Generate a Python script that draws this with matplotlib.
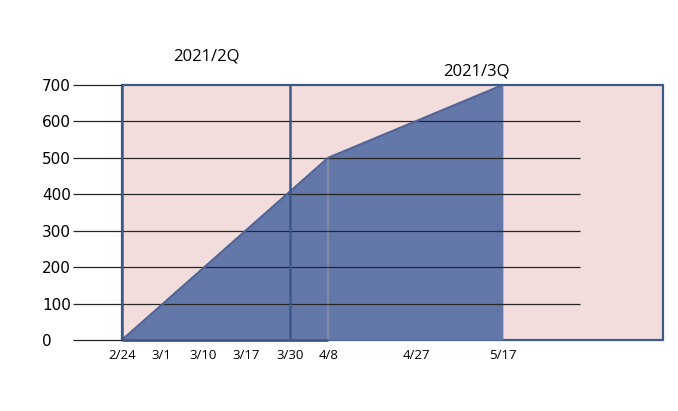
import matplotlib.pyplot as plt
from matplotlib.patches import Rectangle

# x-axis dates as written on the slide (spacing is hand-drawn, not per day)
dates = ['2/24', '3/1', '3/10', '3/17', '3/30', '4/8', '4/27', '5/17']
date_pos = [0, 0.94, 1.95, 2.99, 4.05, 4.97, 7.1, 9.18]

# cumulative area
area_dates = ['2/24', '4/8', '5/17']
area_values = [0, 500, 700]

y_ticks = [0, 100, 200, 300, 400, 500, 600, 700]
quarters = ['2021/2Q', '2021/3Q']
quarter_split = '3/30'

PINK = '#f2dddc'
BORDER = '#3c5a87'
BLUE = '#6477a9'
BLUE_EDGE = '#4f6497'

pos = dict(zip(dates, date_pos))
x_area = [pos[d] for d in area_dates]
x_left, x_right = -1.18, 13.04   # axes extent (gridline start / end of timeline box)
grid_end = 11.05

fig = plt.figure(figsize=(6.78, 4.11), dpi=100)
ax = fig.add_axes([73 / 678, 71 / 411, 590 / 678, 255 / 411])
ax.set_xlim(x_left, x_right)
ax.set_ylim(0, 700)

# background timeline box
ax.add_patch(Rectangle((0, 0), x_right, 700, facecolor=PINK, edgecolor=BORDER,
                       lw=1.6, zorder=1, clip_on=False))

# blue area + its top edge
ax.fill_between(x_area, area_values, 0, color=BLUE, lw=0, zorder=2)
ax.plot(x_area, area_values, color=BLUE_EDGE, lw=1.6, zorder=4, solid_capstyle='butt')
ax.vlines(pos['4/8'], 0, 500, color='#8a8ea8', lw=1.2, zorder=3)

# horizontal gridlines
for y in y_ticks:
    end = grid_end if 0 < y < 700 else 0
    ax.hlines(y, x_left, end, color='#262626', lw=0.9, zorder=3, clip_on=False)

# quarter box lines
split = pos[quarter_split]
ax.vlines([0, split], 0, 700, color=BORDER, lw=1.8, zorder=5)
ax.hlines(0, 0, pos['4/8'], color=BORDER, lw=2, zorder=5, clip_on=False)

# quarter titles
ax.text(split / 2, 777, quarters[0], ha='center', va='center',
        fontsize=12, family='Open Sans', clip_on=False)
ax.text((split + x_right) / 2, 738, quarters[1], ha='center', va='center',
        fontsize=12, family='Open Sans', clip_on=False)

ax.set_xticks(date_pos, dates)
ax.set_yticks(y_ticks)
ax.tick_params(axis='x', length=0, pad=6.5, labelsize=9.5)
ax.tick_params(axis='y', length=0, pad=22.3, labelsize=11)
for lbl in ax.get_xticklabels():
    lbl.set_family('Open Sans')
for lbl in ax.get_yticklabels():
    lbl.set_ha('left')

for s in ax.spines.values():
    s.set_visible(False)
ax.patch.set_visible(False)

fig.savefig('out.png', dpi=100)
